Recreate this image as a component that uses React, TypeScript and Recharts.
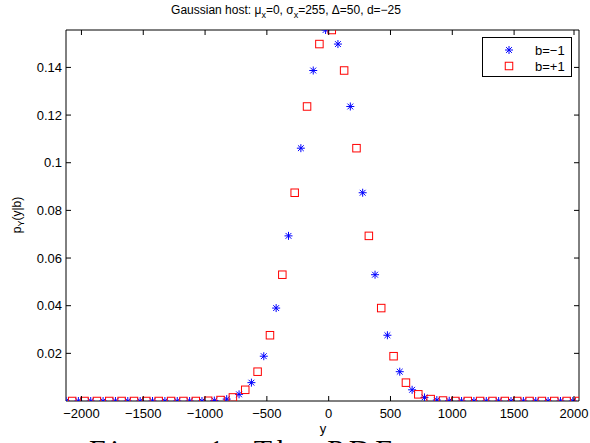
import React from "react";
import { ScatterChart, Scatter, XAxis, YAxis, Legend } from "recharts";

// b = -1 (blue asterisks)
const blueX = [
  -2125, -2025, -1925, -1825, -1725, -1625, -1525, -1425, -1325, -1225, -1125, -1025,
  -925, -825, -725, -625, -525, -425, -325, -225, -125, -25,
  75, 175, 275, 375, 475, 575, 675, 775, 875, 975,
  1075, 1175, 1275, 1375, 1475, 1575, 1675, 1775, 1875, 1975,
];
const blueY = [
  0, 0, 0, 0, 0, 0, 0, 0, 0, 0, 0, 0,
  0.0002, 0.0008, 0.0028, 0.0077, 0.0188, 0.039, 0.0693, 0.1061, 0.1387, 0.1557,
  0.1498, 0.1236, 0.0874, 0.053, 0.0276, 0.0123, 0.0047, 0.0015, 0.0004, 0.0001,
  0, 0, 0, 0, 0, 0, 0, 0, 0, 0,
];

// b = +1 (red squares)
const redX = [
  -2075, -1975, -1875, -1775, -1675, -1575, -1475, -1375, -1275, -1175, -1075,
  -975, -875, -775, -675, -575, -475, -375, -275, -175, -75,
  25, 125, 225, 325, 425, 525, 625, 725, 825, 925,
  1025, 1125, 1225, 1325, 1425, 1525, 1625, 1725, 1825, 1925, 2025,
];
const redY = [
  0, 0, 0, 0, 0, 0, 0, 0, 0, 0, 0,
  0.0001, 0.0004, 0.0015, 0.0047, 0.0123, 0.0276, 0.053, 0.0874, 0.1236, 0.1498,
  0.1557, 0.1387, 0.1061, 0.0693, 0.039, 0.0188, 0.0077, 0.0028, 0.0008, 0.0002,
  0, 0, 0, 0, 0, 0, 0, 0, 0, 0, 0,
];

const xTicks = [-2000, -1500, -1000, -500, 0, 500, 1000, 1500, 2000];
const yTicks = [0.02, 0.04, 0.06, 0.08, 0.1, 0.12, 0.14];

const blueData = blueX.map((x, i) => ({ x, y: blueY[i] }));
const redData = redX.map((x, i) => ({ x, y: redY[i] }));

const FONT = '"Liberation Sans", Arial, Helvetica, sans-serif';
const BLUE = "#0000ff";
const RED = "#ff0000";
const X_DOMAIN = [-2125, 2025];
const Y_DOMAIN = [0, 0.1557];

const fmtX = (v: number) => (v < 0 ? "\u2212" + Math.abs(v) : String(v));

const Asterisk = ({ cx, cy }: any) => {
  const r = 4;
  const d = 2.9;
  return (
    <g stroke={BLUE} strokeWidth={1}>
      <line x1={cx - r} y1={cy} x2={cx + r} y2={cy} />
      <line x1={cx} y1={cy - r} x2={cx} y2={cy + r} />
      <line x1={cx - d} y1={cy - d} x2={cx + d} y2={cy + d} />
      <line x1={cx - d} y1={cy + d} x2={cx + d} y2={cy - d} />
    </g>
  );
};

const Square = ({ cx, cy }: any) => (
  <rect x={cx - 3.75} y={cy - 3.75} width={7.5} height={7.5} fill="none" stroke={RED} strokeWidth={1} />
);

const BottomTick = ({ x, y, payload }: any) => (
  <g>
    <line x1={x} x2={x} y1={y} y2={y - 5} stroke="#000" />
    <text x={x} y={y + 17} textAnchor="middle" fontSize={13} fontFamily={FONT} fill="#000">
      {fmtX(payload.value)}
    </text>
  </g>
);

const TopTick = ({ x, y }: any) => <line x1={x} x2={x} y1={y} y2={y + 5} stroke="#000" />;

const LeftTick = ({ x, y, payload }: any) => (
  <g>
    <line x1={x} x2={x + 5} y1={y} y2={y} stroke="#000" />
    <text x={x - 4} y={y + 4.5} textAnchor="end" fontSize={13} fontFamily={FONT} fill="#000">
      {String(payload.value)}
    </text>
  </g>
);

const RightTick = ({ x, y }: any) => <line x1={x} x2={x - 5} y1={y} y2={y} stroke="#000" />;

const LegendBox = () => (
  <svg width={90} height={40} style={{ display: "block" }}>
    <rect x={0.5} y={0.5} width={89} height={39} fill="#fff" stroke="#000" />
    <Asterisk cx={27} cy={13} />
    <text x={53} y={17.5} fontSize={13} fontFamily={FONT}>{"b=\u22121"}</text>
    <Square cx={27} cy={29} />
    <text x={53} y={33.5} fontSize={13} fontFamily={FONT}>{"b=+1"}</text>
  </svg>
);

export default function App() {
  return (
    <div
      style={{
        position: "absolute",
        left: 0,
        top: 0,
        width: 590,
        height: 443,
        overflow: "hidden",
        background: "#fff",
      }}
    >
      <ScatterChart width={590} height={443} margin={{ top: 29, right: 10, bottom: 0, left: 0 }}>
        <XAxis
          dataKey="x"
          type="number"
          domain={X_DOMAIN}
          ticks={xTicks}
          height={42}
          tickSize={0}
          tickMargin={0}
          tick={<BottomTick />}
          axisLine={{ stroke: "#000" }}
          allowDataOverflow
        />
        {/* top / right axes only draw the MATLAB box with inward ticks */}
        <XAxis
          xAxisId="top"
          orientation="top"
          dataKey="x"
          type="number"
          domain={X_DOMAIN}
          ticks={xTicks}
          height={1}
          tickSize={0}
          tickMargin={0}
          tick={<TopTick />}
          axisLine={{ stroke: "#000" }}
          allowDataOverflow
        />
        <YAxis
          dataKey="y"
          type="number"
          domain={Y_DOMAIN}
          ticks={yTicks}
          width={66}
          tickSize={0}
          tickMargin={0}
          tick={<LeftTick />}
          axisLine={{ stroke: "#000" }}
          allowDataOverflow
        />
        <YAxis
          yAxisId="right"
          orientation="right"
          dataKey="y"
          type="number"
          domain={Y_DOMAIN}
          ticks={yTicks}
          width={1}
          tickSize={0}
          tickMargin={0}
          tick={<RightTick />}
          axisLine={{ stroke: "#000" }}
          allowDataOverflow
        />
        <Scatter data={blueData} shape={<Asterisk />} isAnimationActive={false} />
        <Scatter
          data={redData}
          xAxisId="top"
          yAxisId="right"
          shape={<Square />}
          isAnimationActive={false}
        />
        <Legend
          layout="horizontal"
          verticalAlign="middle"
          align="center"
          content={<LegendBox />}
          wrapperStyle={{ left: 482, top: 37, width: 90, height: 40 }}
        />
      </ScatterChart>
      <svg
        width={590}
        height={443}
        style={{ position: "absolute", left: 0, top: 0, pointerEvents: "none" }}
      >
        <text x={286} y={14} textAnchor="middle" fontSize={12} fontFamily={FONT}>
          Gaussian host: μ<tspan dy={4} fontSize={9}>x</tspan>
          <tspan dy={-4}>=0, σ</tspan>
          <tspan dy={4} fontSize={9}>x</tspan>
          <tspan dy={-4}>=255, Δ=50, d=−25</tspan>
        </text>
        <text x={323} y={433} textAnchor="middle" fontSize={13} fontFamily={FONT}>
          y
        </text>
        <text transform="translate(21,215) rotate(-90)" textAnchor="middle" fontSize={12} fontFamily={FONT}>
          p<tspan dy={3} fontSize={9}>Y</tspan>
          <tspan dy={-3}>(y|b)</tspan>
        </text>
        <text
          x={89}
          y={460}
          fontSize={30}
          fontFamily='"Liberation Serif", "DejaVu Serif", serif'
          textLength={303}
          lengthAdjust="spacing"
        >
          Figure 1: The PDF
        </text>
      </svg>
    </div>
  );
}
